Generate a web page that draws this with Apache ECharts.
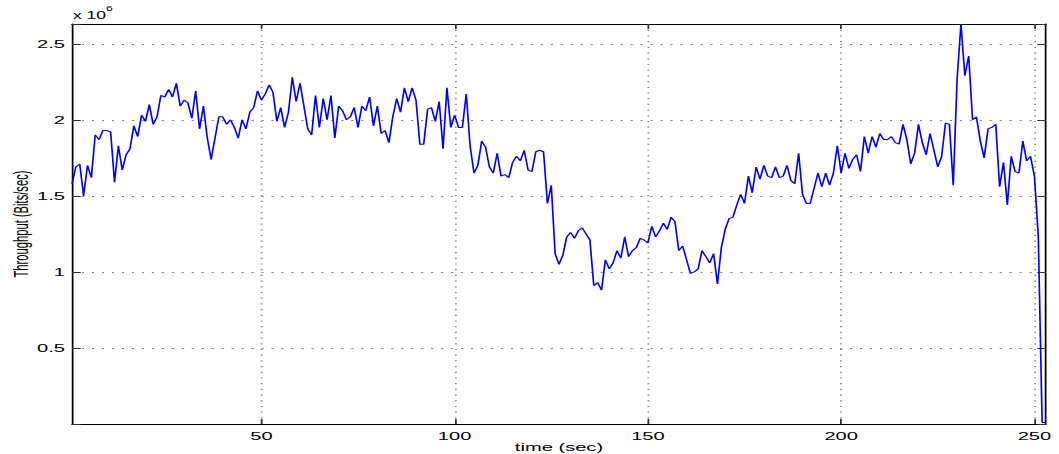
<!DOCTYPE html>
<html><head><meta charset="utf-8">
<script src="https://cdn.jsdelivr.net/npm/echarts@6/dist/echarts.min.js"></script>
<style>
html,body{margin:0;padding:0;background:#fff;overflow:hidden;width:1059px;height:454px}
#c{position:absolute;left:0;top:0;height:454px;transform-origin:0 0;}
</style></head><body><div id="c"></div>
<script>
// time (sec)
const timeSec = [
  1,2,3,4,5,6,7,8,9,10, 11,12,13,14,15,16,17,18,19,20,
  21,22,23,24,25,26,27,28,29,30, 31,32,33,34,35,36,37,38,39,40,
  41,42,43,44,45,46,47,48,49,50, 51,52,53,54,55,56,57,58,59,60,
  61,62,63,64,65,66,67,68,69,70, 71,72,73,74,75,76,77,78,79,80,
  81,82,83,84,85,86,87,88,89,90, 91,92,93,94,95,96,97,98,99,100,
  101,102,103,104,105,106,107,108,109,110, 111,112,113,114,115,116,117,118,119,120,
  121,122,123,124,125,126,127,128,129,130, 131,132,133,134,135,136,137,138,139,140,
  141,142,143,144,145,146,147,148,149,150, 151,152,153,154,155,156,157,158,159,160,
  161,162,163,164,165,166,167,168,169,170, 171,172,173,174,175,176,177,178,179,180,
  181,182,183,184,185,186,187,188,189,190, 191,192,193,194,195,196,197,198,199,200,
  201,202,203,204,205,206,207,208,209,210, 211,212,213,214,215,216,217,218,219,220,
  221,222,223,224,225,226,227,228,229,230, 231,232,233,234,235,236,237,238,239,240,
  241,242,243,244,245,246,247,248,249,250, 251,252,253
];
// throughput, in units of 10^6 bits/sec
const throughput = [
  1.58,1.69,1.71,1.50,1.70,1.62,1.90,1.87,1.93,1.93,
  1.92,1.59,1.83,1.67,1.77,1.81,1.96,1.89,2.03,1.99,
  2.10,1.97,2.02,2.16,2.15,2.20,2.15,2.24,2.09,2.13,
  2.11,2.01,2.19,1.94,2.09,1.88,1.74,1.88,2.02,2.02,
  1.97,2.00,1.95,1.88,2.00,1.94,2.05,2.08,2.19,2.13,
  2.17,2.23,2.18,1.99,2.08,1.95,2.05,2.28,2.12,2.24,
  2.09,1.94,1.90,2.16,1.95,2.14,2.00,2.16,1.88,2.09,
  2.06,2.00,2.02,2.08,1.95,2.09,2.06,2.15,1.96,2.09,
  1.91,1.93,1.85,2.02,2.14,2.05,2.21,2.12,2.21,2.13,
  1.84,1.84,2.07,2.08,1.99,2.12,1.81,2.21,1.95,2.03,
  1.95,1.95,2.17,1.83,1.65,1.70,1.86,1.82,1.69,1.65,
  1.78,1.63,1.64,1.62,1.72,1.76,1.73,1.80,1.67,1.66,
  1.79,1.80,1.79,1.45,1.57,1.12,1.05,1.11,1.23,1.26,
  1.22,1.27,1.29,1.25,1.21,0.91,0.93,0.88,1.08,1.02,
  1.06,1.14,1.09,1.23,1.10,1.14,1.16,1.22,1.21,1.19,
  1.30,1.23,1.27,1.32,1.28,1.36,1.33,1.14,1.17,1.08,
  0.99,1.00,1.02,1.14,1.10,1.06,1.12,0.92,1.16,1.28,
  1.35,1.36,1.44,1.51,1.45,1.63,1.52,1.69,1.61,1.70,
  1.63,1.62,1.69,1.62,1.63,1.70,1.60,1.58,1.78,1.51,
  1.45,1.45,1.55,1.65,1.56,1.65,1.57,1.65,1.83,1.65,
  1.78,1.68,1.74,1.77,1.66,1.89,1.78,1.89,1.82,1.91,
  1.87,1.87,1.89,1.85,1.84,1.97,1.87,1.71,1.78,1.97,
  1.85,1.77,1.91,1.80,1.69,1.76,1.98,1.97,1.57,2.27,
  2.63,2.29,2.42,2.00,2.02,1.86,1.75,1.94,1.95,1.97,
  1.56,1.72,1.44,1.76,1.66,1.65,1.86,1.73,1.76,1.63,
  1.24,0.01,0.01
];
const xTickValues = [50, 100, 150, 200, 250];
const yTickValues = [0.5, 1, 1.5, 2, 2.5];
const yTickLabels = ['0.5', '1', '1.5', '2', '2.5'];
const xTitle = 'time (sec)';
const yTitle = 'Throughput (Bits/sec)';
const multiplierBase = 'x 10';
const multiplierExp = '6';

const SX = 1.75; // horizontal stretch of the original figure
const W = 1059 / SX, H = 454;
const F = 'Liberation Sans, Arial, Helvetica, sans-serif';
const el = document.getElementById('c');
el.style.width = W + 'px';
el.style.transform = 'scaleX(' + SX + ')';

const chart = echarts.init(el, null, {renderer: 'svg', width: W, height: H});
const seriesData = timeSec.map((t, i) => [t, throughput[i]]);
const gridStyle = {color: '#858585', width: 1, type: [1.2, 4.5]};
const lineBlack = {color: '#000', width: 1};
const tickStyle = {color: '#333', width: 1};

chart.setOption({
  animation: false,
  backgroundColor: '#fff',
  grid: {left: 72 / SX, right: 13 / SX, top: 24, bottom: 30, outerBoundsMode: 'none'},
  xAxis: [
    {
      type: 'value', position: 'bottom', min: 1, max: 253,
      axisLine: {show: true, onZero: false, lineStyle: lineBlack},
      axisTick: {show: true, inside: true, length: 5, customValues: xTickValues, lineStyle: tickStyle},
      axisLabel: {show: true, customValues: xTickValues, margin: 6, color: '#000',
        fontSize: 11.5, fontFamily: F, formatter: v => String(v)},
      splitLine: {show: true, lineStyle: gridStyle}
    },
    {
      type: 'value', position: 'top', min: 1, max: 253,
      axisLine: {show: true, onZero: false, lineStyle: lineBlack},
      axisTick: {show: true, inside: true, length: 5, customValues: xTickValues, lineStyle: tickStyle},
      axisLabel: {show: false},
      splitLine: {show: false}
    }
  ],
  yAxis: [
    {
      type: 'value', position: 'left', min: 0, max: 2.63, interval: 0.5,
      axisLine: {show: true, onZero: false, lineStyle: lineBlack},
      axisTick: {show: true, inside: true, length: 5, lineStyle: tickStyle},
      axisLabel: {show: true, margin: 4, color: '#000', fontSize: 11.5, fontFamily: F,
        formatter: v => {
          const k = yTickValues.findIndex(y => Math.abs(y - v) < 1e-9);
          return k >= 0 ? yTickLabels[k] : '';
        }},
      splitLine: {show: true, showMinLine: false, showMaxLine: false, lineStyle: gridStyle}
    },
    {
      type: 'value', position: 'right', min: 0, max: 2.63, interval: 0.5,
      axisLine: {show: true, onZero: false, lineStyle: lineBlack},
      axisTick: {show: true, inside: true, length: 5, lineStyle: tickStyle},
      axisLabel: {show: false},
      splitLine: {show: false}
    }
  ],
  series: [{
    type: 'line', xAxisIndex: 0, yAxisIndex: 0,
    data: seriesData, showSymbol: false, symbol: 'none',
    lineStyle: {color: '#0000ff', width: 0.95},
    z: 3
  }],
  graphic: [
    {type: 'text', x: 12, y: 224, rotation: Math.PI / 2,
      style: {text: yTitle, fill: '#000', font: '11.2px ' + F, align: 'center', verticalAlign: 'middle'}},
    {type: 'text', x: 559 / SX, y: 447,
      style: {text: xTitle, fill: '#000', font: '11.5px ' + F, align: 'center', verticalAlign: 'middle'}},
    {type: 'text', x: 73 / SX, y: 15.5,
      style: {text: multiplierBase, fill: '#000', font: '10px ' + F, align: 'left', verticalAlign: 'middle'}},
    {type: 'text', x: 106 / SX, y: 8.5,
      style: {text: multiplierExp, fill: '#000', font: '7px ' + F, align: 'left', verticalAlign: 'middle'}}
  ]
});
</script>
</body></html>
